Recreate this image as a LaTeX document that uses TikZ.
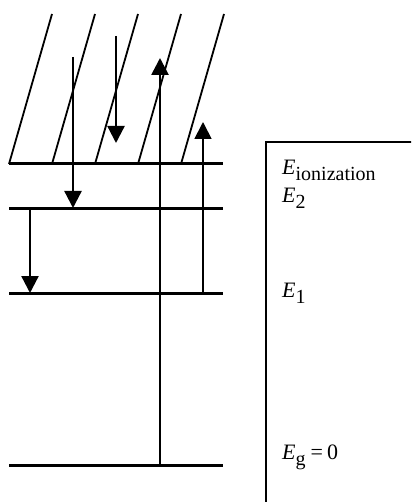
\documentclass[tikz,border=0pt]{standalone}
\usepackage{fontspec}
\setmainfont{Liberation Serif}
\usetikzlibrary{arrows.meta}

\newcommand{\elabel}[1]{\textit{E}\raisebox{-6bp}{\fontsize{20bp}{21bp}\selectfont #1}}

\begin{document}
\begin{tikzpicture}[x=1bp,y=-1bp,>={Triangle[width=17bp,length=17bp]},
  level/.style={line width=3bp},
  hatch/.style={line width=1.8bp},
  arrow/.style={->,line width=2.3bp},
  lbl/.style={anchor=base west,inner sep=0pt,font=\fontsize{22bp}{24bp}\selectfont}]
  \useasboundingbox (0,0) rectangle (411,502);
  \clip (0,0) rectangle (411,502);
  % energy levels
  \coordinate (ion-l) at (9,164);  \coordinate (ion-r) at (223,164);
  \coordinate (e2-l) at (9,208);   \coordinate (e2-r) at (223,208);
  \coordinate (e1-l) at (9,293);   \coordinate (e1-r) at (223,293);
  \coordinate (g-l) at (9,465);    \coordinate (g-r) at (223,465);
  \draw[level] (ion-l) -- (ion-r);
  \draw[level] (e2-l) -- (e2-r);
  \draw[level] (e1-l) -- (e1-r);
  \draw[level] (g-l) -- (g-r);
  % continuum
  \foreach \i in {0,...,4}
    \draw[hatch] (9+43*\i,164) -- (52+43*\i,14);
  % transitions
  \coordinate (t1) at (73,57);
  \coordinate (t2) at (116,36);   \coordinate (t2e) at (116,143);
  \coordinate (t3e) at (160,58);
  \coordinate (t4e) at (203,122);
  \coordinate (t5) at (30,208);
  \draw[arrow] (t1) -- (t1 |- e2-l);
  \draw[arrow] (t2) -- (t2e);
  \draw[arrow,line width=2.7bp] (t3e |- g-l) -- (t3e);
  \draw[arrow,line width=1.8bp] (t4e |- e1-l) -- (t4e);
  \draw[arrow] (t5) -- (t5 |- e1-l);
  % label box
  \draw[line width=1.9bp] (266,142) rectangle (430,520);
  \node[lbl] (l-ion) at (282,175) {\elabel{ionization}};
  \node[lbl] (l-e2) at (282,202) {\elabel{2}};
  \node[lbl] (l-e1) at (282,297) {\elabel{1}};
  \node[lbl] (l-g) at (282,459) {\elabel{g}\hspace{5bp}{=}\hspace{4bp}0};
\end{tikzpicture}
\end{document}
